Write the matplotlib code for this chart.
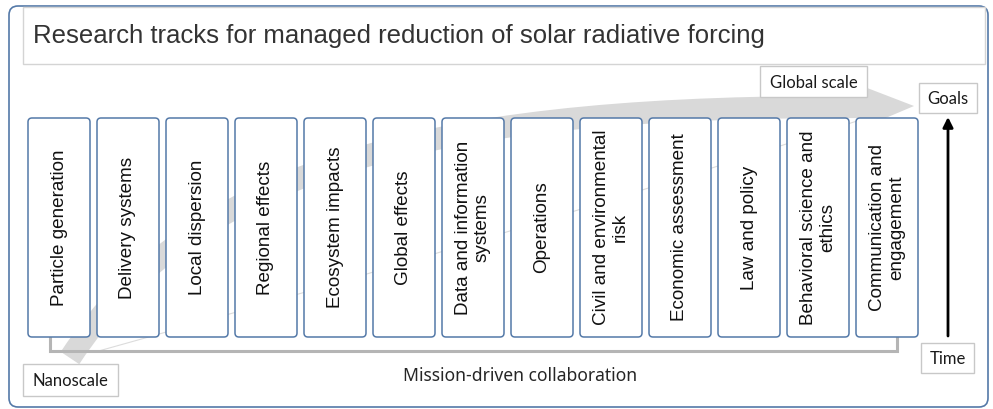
import numpy as np
import matplotlib.pyplot as plt
from matplotlib.patches import FancyBboxPatch, Rectangle, PathPatch, Polygon
from matplotlib.path import Path

# ---------------- data ----------------
title = "Research tracks for managed reduction of solar radiative forcing"
tracks = [
    "Particle generation",
    "Delivery systems",
    "Local dispersion",
    "Regional effects",
    "Ecosystem impacts",
    "Global effects",
    "Data and information\nsystems",
    "Operations",
    "Civil and environmental\nrisk",
    "Economic assessment",
    "Law and policy",
    "Behavioral science and\nethics",
    "Communication and\nengagement",
]
bracket_label = "Mission-driven collaboration"
scale_labels = ["Nanoscale", "Global scale"]
time_labels = ["Time", "Goals"]

# ---------------- layout (pixel space) ----------------
W, H = 993, 409
box_x0, box_pitch, box_w = 28, 69, 62
box_top, box_bot = 118, 337
edge_blue = "#5479a8"
band_grey = "#d9d9d9"

fig = plt.figure(figsize=(W / 100, H / 100), dpi=100)
ax = fig.add_axes([0, 0, 1, 1])
ax.set_xlim(0, W)
ax.set_ylim(H, 0)
ax.axis("off")

# outer frame
ax.add_patch(FancyBboxPatch((9, 6), 979, 401, boxstyle="round,pad=0,rounding_size=9",
                            fc="white", ec=edge_blue, lw=1.2, zorder=0))

# title box
ax.add_patch(Rectangle((23, 7), 962, 57, fc="white", ec="#d4d4d4", lw=1.0, zorder=1))
ax.text(33, 36, title, fontsize=18.5, family="Liberation Sans", color="#333333",
        ha="left", va="center", zorder=2)

# curved grey arrow (behind boxes)
P0, P1, P2, P3 = (70, 358), (200, 160), (450, 105), (866, 107)
band = Path([P0, P1, P2, P3], [Path.MOVETO, Path.CURVE4, Path.CURVE4, Path.CURVE4])
ax.add_patch(PathPatch(band, fc="none", ec=band_grey, lw=16, capstyle="butt", zorder=1))
ax.add_patch(Polygon([(862, 86), (914, 106), (862, 128)], closed=True,
                     fc=band_grey, ec="none", zorder=1))
# thin outline of the arrow shape
edge = Path([(95, 352), (480, 245), (860, 120)], [Path.MOVETO, Path.CURVE3, Path.CURVE3])
ax.add_patch(PathPatch(edge, fc="none", ec="#dcdcdc", lw=0.8, zorder=1))

# track boxes
for i, label in enumerate(tracks):
    x = box_x0 + i * box_pitch
    ax.add_patch(FancyBboxPatch((x, box_top), box_w, box_bot - box_top,
                                boxstyle="round,pad=0,rounding_size=4",
                                fc="white", ec=edge_blue, lw=1.1, zorder=3))
    ax.text(x + box_w / 2, (box_top + box_bot) / 2, label, rotation=90,
            fontsize=13.6, family="Liberation Sans", color="#111111",
            ha="center", va="center", multialignment="center",
            linespacing=1.12, zorder=4)

# bracket below boxes
bx0 = box_x0 + 22
bx1 = box_x0 + (len(tracks) - 1) * box_pitch + 41
ax.plot([bx0, bx0, bx1, bx1], [box_bot, 351, 351, box_bot], color="#b5b5b5",
        lw=2.2, solid_joinstyle="miter", zorder=2)
ax.text(520, 376, bracket_label, fontsize=12.6, family="Noto Sans",
        color="#262626", ha="center", va="center", zorder=4)


def label_box(x0, y0, x1, y1, text):
    ax.add_patch(Rectangle((x0, y0), x1 - x0, y1 - y0, fc="white",
                           ec="#c8c8c8", lw=1.0, zorder=5))
    ax.text((x0 + x1) / 2, (y0 + y1) / 2 + 1, text, fontsize=12, family="Lato",
            color="#1a1a1a", ha="center", va="center", zorder=6)


label_box(23, 364, 118, 396, scale_labels[0])
label_box(760, 66, 867, 97, scale_labels[1])
label_box(921, 343, 974, 373, time_labels[0])
label_box(919, 83, 977, 113, time_labels[1])

# time arrow
ax.annotate("", xy=(948, 117), xytext=(948, 336),
            arrowprops=dict(arrowstyle="-|>,head_length=0.6,head_width=0.3",
                            color="black", lw=2.0, shrinkA=0, shrinkB=0), zorder=4)

fig.savefig("out.png", dpi=100)
